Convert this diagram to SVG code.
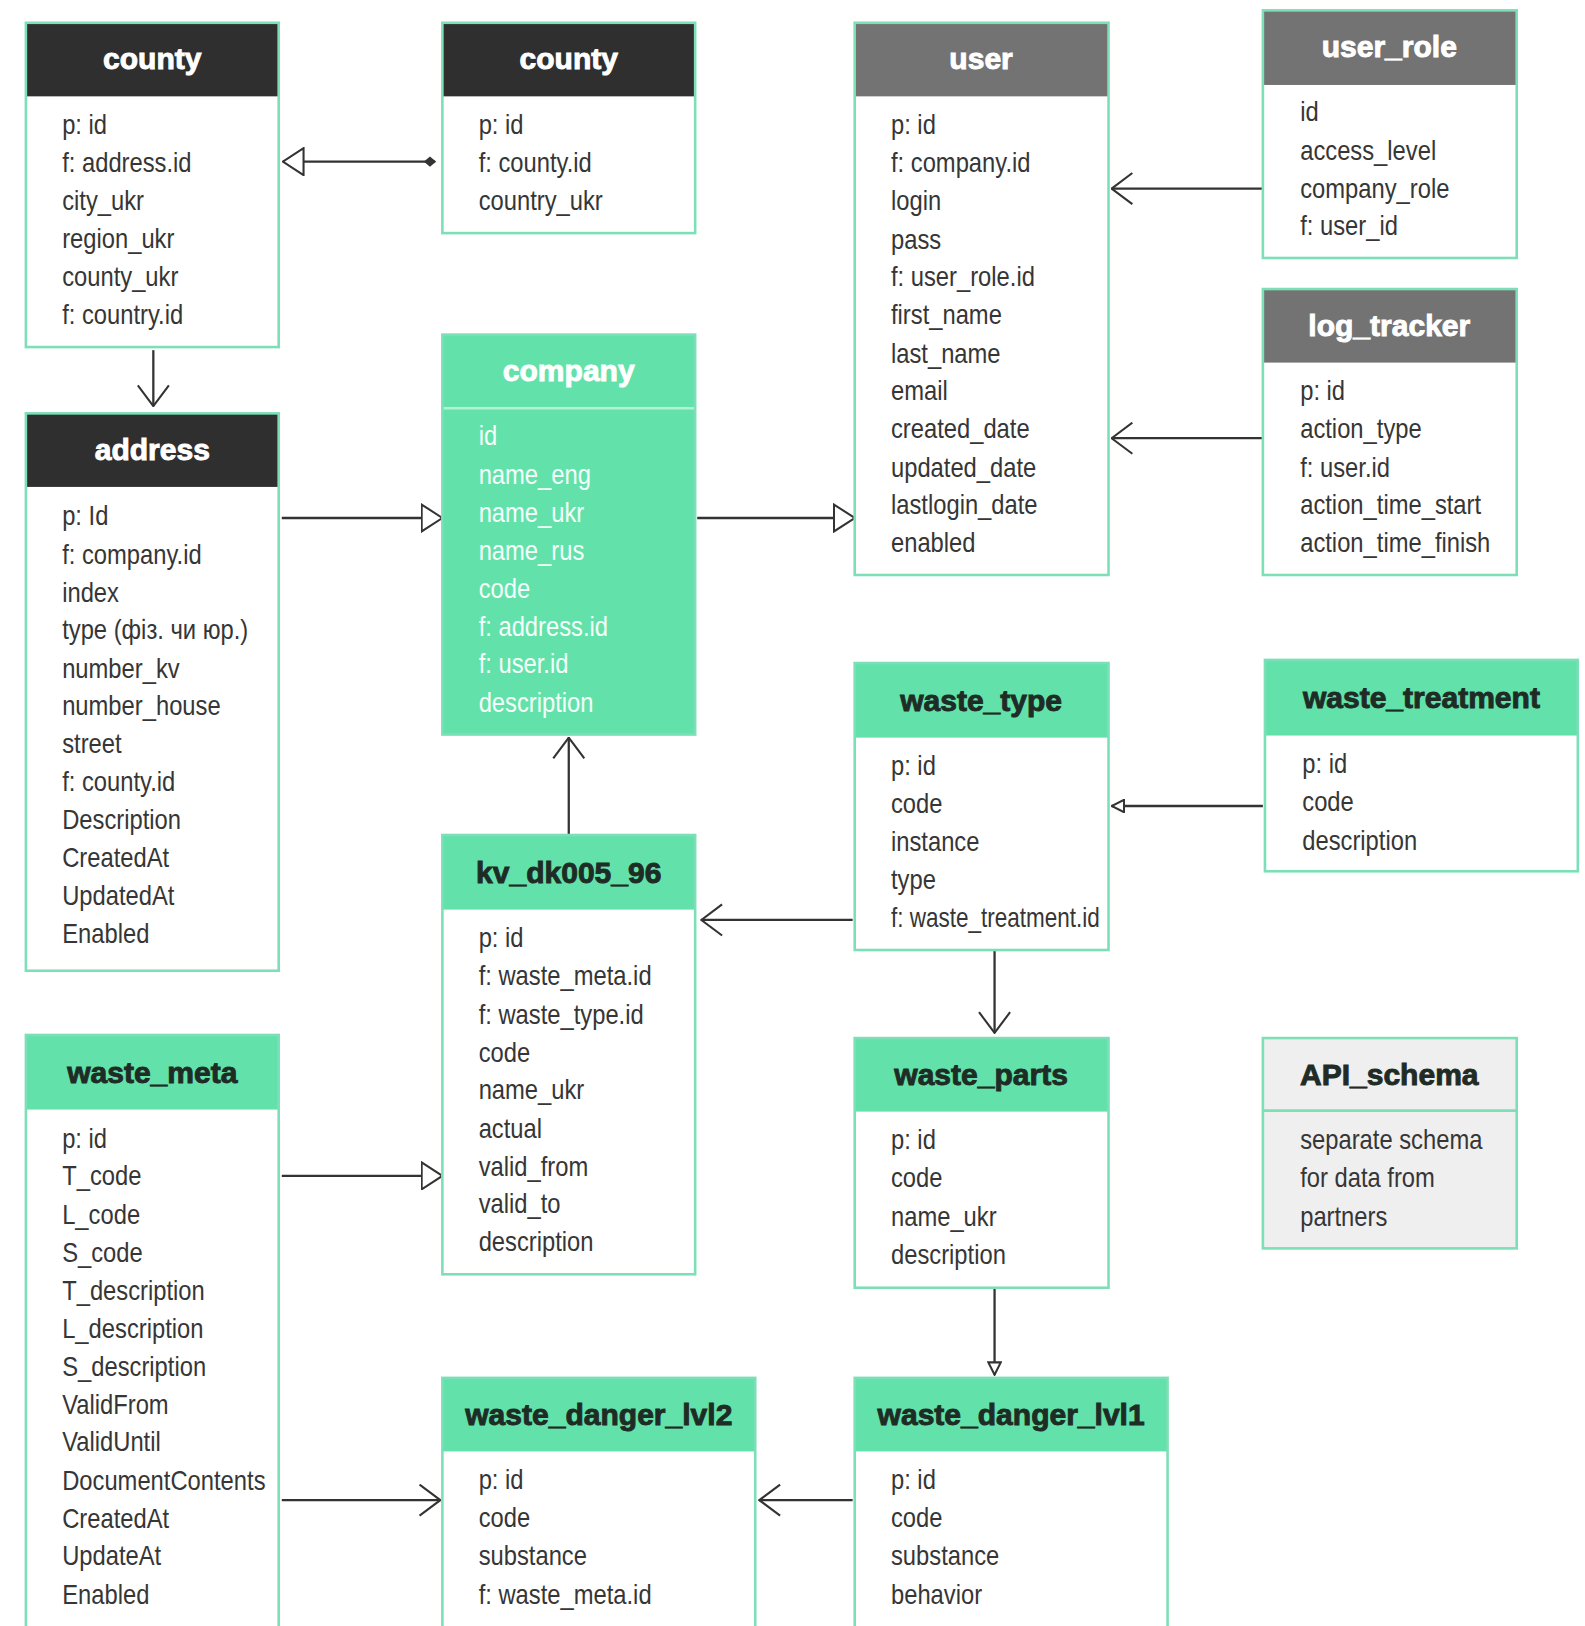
<svg xmlns="http://www.w3.org/2000/svg" width="1585" height="1626" viewBox="0 0 1585 1626">
<style>
.bg{fill:#ffffff}
.body{fill:#ffffff}
.bodyg{fill:#62e2aa}
.bodyl{fill:#efefef}
.hd-dark{fill:#2f2f2f}
.hd-gray{fill:#737373}
.hd-green{fill:#62e2aa}
.outline{fill:none;stroke:#7ddfb8;stroke-width:2.5}
.title{font-family:"Liberation Sans",Arial,sans-serif;font-weight:bold;font-size:29px;text-anchor:middle;stroke-width:0.9}
.tw{fill:#ffffff;stroke:#ffffff}
.td{fill:#1e2c25;stroke:#1e2c25}
.f{font-family:"Liberation Sans",Arial,sans-serif;font-size:27px;fill:#363636}
.fw{font-family:"Liberation Sans",Arial,sans-serif;font-size:27px;fill:#f4fff9}
.conn{stroke:#333333;stroke-width:2.2;fill:none}
</style>
<defs>
<marker id="tri" viewBox="0 0 22 28" refX="21" refY="14" markerWidth="22" markerHeight="28" markerUnits="userSpaceOnUse" orient="auto">
<path d="M1,1 L21,14 L1,27 Z" fill="#ffffff" stroke="#333333" stroke-width="2"/>
</marker>
<marker id="vee" viewBox="0 0 22 32" refX="21" refY="16" markerWidth="22" markerHeight="32" markerUnits="userSpaceOnUse" orient="auto">
<path d="M1,1 L21,16 L1,31" fill="none" stroke="#333333" stroke-width="2"/>
</marker>
<marker id="stri" viewBox="0 0 14 14" refX="13" refY="7" markerWidth="14" markerHeight="14" markerUnits="userSpaceOnUse" orient="auto">
<path d="M1,1 L13,7 L1,13 Z" fill="#ffffff" stroke="#333333" stroke-width="2"/>
</marker>
<marker id="dia" viewBox="0 0 12 10" refX="1" refY="5" markerWidth="12" markerHeight="10" markerUnits="userSpaceOnUse" orient="auto">
<path d="M0,5 L6,0 L12,5 L6,10 Z" fill="#333333"/>
</marker>
</defs>
<rect class="bg" x="0" y="0" width="1585" height="1626"/>
<g transform="scale(1.036)">

<g id="connectors">
<line class="conn" x1="420" y1="156" x2="273" y2="156" marker-start="url(#dia)" marker-end="url(#tri)"/>
<line class="conn" x1="148" y1="338" x2="148" y2="392" marker-end="url(#vee)"/>
<line class="conn" x1="272" y1="500" x2="427" y2="500" marker-end="url(#tri)"/>
<line class="conn" x1="673" y1="500" x2="825" y2="500" marker-end="url(#tri)"/>
<line class="conn" x1="1219" y1="182" x2="1073" y2="182" marker-end="url(#vee)"/>
<line class="conn" x1="1219" y1="423" x2="1073" y2="423" marker-end="url(#vee)"/>
<line class="conn" x1="549" y1="806" x2="549" y2="712" marker-end="url(#vee)"/>
<line class="conn" x1="1219" y1="778" x2="1073" y2="778" marker-end="url(#stri)"/>
<line class="conn" x1="823" y1="888" x2="677" y2="888" marker-end="url(#vee)"/>
<line class="conn" x1="960" y1="917" x2="960" y2="997" marker-end="url(#vee)"/>
<line class="conn" x1="272" y1="1135" x2="427" y2="1135" marker-end="url(#tri)"/>
<line class="conn" x1="960" y1="1243" x2="960" y2="1327" marker-end="url(#stri)"/>
<line class="conn" x1="823" y1="1448" x2="733" y2="1448" marker-end="url(#vee)"/>
<line class="conn" x1="272" y1="1448" x2="425" y2="1448" marker-end="url(#vee)"/>
</g>

<g id="county1">
<rect class="body" x="25" y="22" width="244" height="313"/>
<rect class="hd-dark" x="25" y="22" width="244" height="71"/>
<rect class="outline" x="25" y="22" width="244" height="313"/>
<text class="title tw" x="147" y="67">county</text>
<g transform="translate(60,0) scale(0.85,1)">
<text class="f" y="129">p: id</text>
<text class="f" y="166">f: address.id</text>
<text class="f" y="203">city_ukr</text>
<text class="f" y="239">region_ukr</text>
<text class="f" y="276">county_ukr</text>
<text class="f" y="313">f: country.id</text>
</g>
</g>

<g id="county2">
<rect class="body" x="427" y="22" width="244" height="203"/>
<rect class="hd-dark" x="427" y="22" width="244" height="71"/>
<rect class="outline" x="427" y="22" width="244" height="203"/>
<text class="title tw" x="549" y="67">county</text>
<g transform="translate(462,0) scale(0.85,1)">
<text class="f" y="129">p: id</text>
<text class="f" y="166">f: county.id</text>
<text class="f" y="203">country_ukr</text>
</g>
</g>

<g id="user">
<rect class="body" x="825" y="22" width="245" height="533"/>
<rect class="hd-gray" x="825" y="22" width="245" height="71"/>
<rect class="outline" x="825" y="22" width="245" height="533"/>
<text class="title tw" x="947" y="67">user</text>
<g transform="translate(860,0) scale(0.85,1)">
<text class="f" y="129">p: id</text>
<text class="f" y="166">f: company.id</text>
<text class="f" y="203">login</text>
<text class="f" y="240">pass</text>
<text class="f" y="276">f: user_role.id</text>
<text class="f" y="313">first_name</text>
<text class="f" y="350">last_name</text>
<text class="f" y="386">email</text>
<text class="f" y="423">created_date</text>
<text class="f" y="460">updated_date</text>
<text class="f" y="496">lastlogin_date</text>
<text class="f" y="533">enabled</text>
</g>
</g>

<g id="user_role">
<rect class="body" x="1219" y="10" width="245" height="239"/>
<rect class="hd-gray" x="1219" y="10" width="245" height="72"/>
<rect class="outline" x="1219" y="10" width="245" height="239"/>
<text class="title tw" x="1341" y="55">user_role</text>
<g transform="translate(1255,0) scale(0.85,1)">
<text class="f" y="117">id</text>
<text class="f" y="154">access_level</text>
<text class="f" y="191">company_role</text>
<text class="f" y="227">f: user_id</text>
</g>
</g>

<g id="log_tracker">
<rect class="body" x="1219" y="279" width="245" height="276"/>
<rect class="hd-gray" x="1219" y="279" width="245" height="71"/>
<rect class="outline" x="1219" y="279" width="245" height="276"/>
<text class="title tw" x="1341" y="324">log_tracker</text>
<g transform="translate(1255,0) scale(0.85,1)">
<text class="f" y="386">p: id</text>
<text class="f" y="423">action_type</text>
<text class="f" y="460">f: user.id</text>
<text class="f" y="496">action_time_start</text>
<text class="f" y="533">action_time_finish</text>
</g>
</g>

<g id="company">
<rect class="bodyg" x="427" y="323" width="244" height="386"/>
<line x1="427" y1="394" x2="671" y2="394" stroke="#b4f2d6" stroke-width="2.5"/>
<rect class="outline" x="427" y="323" width="244" height="386"/>
<text class="title tw" x="549" y="368">company</text>
<g transform="translate(462,0) scale(0.85,1)">
<text class="fw" y="430">id</text>
<text class="fw" y="467">name_eng</text>
<text class="fw" y="504">name_ukr</text>
<text class="fw" y="541">name_rus</text>
<text class="fw" y="577">code</text>
<text class="fw" y="614">f: address.id</text>
<text class="fw" y="650">f: user.id</text>
<text class="fw" y="687">description</text>
</g>
</g>

<g id="address">
<rect class="body" x="25" y="399" width="244" height="538"/>
<rect class="hd-dark" x="25" y="399" width="244" height="71"/>
<rect class="outline" x="25" y="399" width="244" height="538"/>
<text class="title tw" x="147" y="444">address</text>
<g transform="translate(60,0) scale(0.85,1)">
<text class="f" y="507">p: Id</text>
<text class="f" y="544">f: company.id</text>
<text class="f" y="581">index</text>
<text class="f" y="617">type (фіз. чи юр.)</text>
<text class="f" y="654">number_kv</text>
<text class="f" y="690">number_house</text>
<text class="f" y="727">street</text>
<text class="f" y="764">f: county.id</text>
<text class="f" y="800">Description</text>
<text class="f" y="837">CreatedAt</text>
<text class="f" y="874">UpdatedAt</text>
<text class="f" y="910">Enabled</text>
</g>
</g>

<g id="kv_dk005_96">
<rect class="body" x="427" y="806" width="244" height="424"/>
<rect class="hd-green" x="427" y="806" width="244" height="72"/>
<rect class="outline" x="427" y="806" width="244" height="424"/>
<text class="title td" x="549" y="852">kv_dk005_96</text>
<g transform="translate(462,0) scale(0.85,1)">
<text class="f" y="914">p: id</text>
<text class="f" y="951">f: waste_meta.id</text>
<text class="f" y="988">f: waste_type.id</text>
<text class="f" y="1025">code</text>
<text class="f" y="1061">name_ukr</text>
<text class="f" y="1098">actual</text>
<text class="f" y="1135">valid_from</text>
<text class="f" y="1171">valid_to</text>
<text class="f" y="1208">description</text>
</g>
</g>

<g id="waste_type">
<rect class="body" x="825" y="640" width="245" height="277"/>
<rect class="hd-green" x="825" y="640" width="245" height="72"/>
<rect class="outline" x="825" y="640" width="245" height="277"/>
<text class="title td" x="947" y="686">waste_type</text>
<g transform="translate(860,0) scale(0.85,1)">
<text class="f" y="748">p: id</text>
<text class="f" y="785">code</text>
<text class="f" y="821">instance</text>
<text class="f" y="858">type</text>
<text class="f" y="895" textLength="237" lengthAdjust="spacingAndGlyphs">f: waste_treatment.id</text>
</g>
</g>

<g id="waste_treatment">
<rect class="body" x="1221" y="637" width="302" height="204"/>
<rect class="hd-green" x="1221" y="637" width="302" height="73"/>
<rect class="outline" x="1221" y="637" width="302" height="204"/>
<text class="title td" x="1372" y="683">waste_treatment</text>
<g transform="translate(1257,0) scale(0.85,1)">
<text class="f" y="746">p: id</text>
<text class="f" y="783">code</text>
<text class="f" y="820">description</text>
</g>
</g>

<g id="waste_parts">
<rect class="body" x="825" y="1002" width="245" height="241"/>
<rect class="hd-green" x="825" y="1002" width="245" height="71"/>
<rect class="outline" x="825" y="1002" width="245" height="241"/>
<text class="title td" x="947" y="1047">waste_parts</text>
<g transform="translate(860,0) scale(0.85,1)">
<text class="f" y="1109">p: id</text>
<text class="f" y="1146">code</text>
<text class="f" y="1183">name_ukr</text>
<text class="f" y="1220">description</text>
</g>
</g>

<g id="API_schema">
<rect class="bodyl" x="1219" y="1002" width="245" height="203"/>
<line x1="1219" y1="1072" x2="1464" y2="1072" stroke="#7ddfb8" stroke-width="2.5"/>
<rect class="outline" x="1219" y="1002" width="245" height="203"/>
<text class="title td" x="1341" y="1047">API_schema</text>
<g transform="translate(1255,0) scale(0.85,1)">
<text class="f" y="1109">separate schema</text>
<text class="f" y="1146">for data from</text>
<text class="f" y="1183">partners</text>
</g>
</g>

<g id="waste_meta">
<rect class="body" x="25" y="999" width="244" height="620"/>
<rect class="hd-green" x="25" y="999" width="244" height="72"/>
<rect class="outline" x="25" y="999" width="244" height="620"/>
<text class="title td" x="147" y="1045">waste_meta</text>
<g transform="translate(60,0) scale(0.85,1)">
<text class="f" y="1108">p: id</text>
<text class="f" y="1144">T_code</text>
<text class="f" y="1181">L_code</text>
<text class="f" y="1218">S_code</text>
<text class="f" y="1255">T_description</text>
<text class="f" y="1292">L_description</text>
<text class="f" y="1328">S_description</text>
<text class="f" y="1365">ValidFrom</text>
<text class="f" y="1401">ValidUntil</text>
<text class="f" y="1438">DocumentContents</text>
<text class="f" y="1475">CreatedAt</text>
<text class="f" y="1511">UpdateAt</text>
<text class="f" y="1548">Enabled</text>
</g>
</g>

<g id="waste_danger_lvl2">
<rect class="body" x="427" y="1330" width="302" height="300"/>
<rect class="hd-green" x="427" y="1330" width="302" height="71"/>
<rect class="outline" x="427" y="1330" width="302" height="300"/>
<text class="title td" x="578" y="1375">waste_danger_lvl2</text>
<g transform="translate(462,0) scale(0.85,1)">
<text class="f" y="1437">p: id</text>
<text class="f" y="1474">code</text>
<text class="f" y="1511">substance</text>
<text class="f" y="1548">f: waste_meta.id</text>
</g>
</g>

<g id="waste_danger_lvl1">
<rect class="body" x="825" y="1330" width="302" height="300"/>
<rect class="hd-green" x="825" y="1330" width="302" height="71"/>
<rect class="outline" x="825" y="1330" width="302" height="300"/>
<text class="title td" x="976" y="1375">waste_danger_lvl1</text>
<g transform="translate(860,0) scale(0.85,1)">
<text class="f" y="1437">p: id</text>
<text class="f" y="1474">code</text>
<text class="f" y="1511">substance</text>
<text class="f" y="1548">behavior</text>
</g>
</g>

</g>
</svg>
